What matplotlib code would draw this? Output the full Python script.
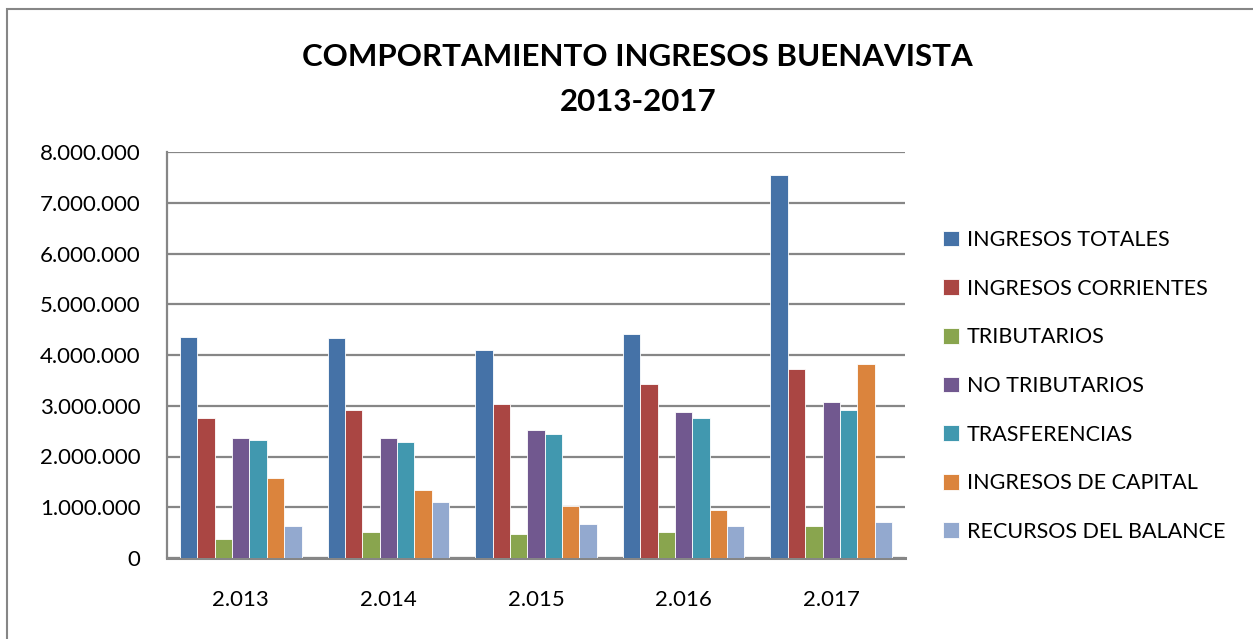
import numpy as np
import matplotlib.pyplot as plt
from matplotlib.patches import Rectangle
from matplotlib.ticker import FuncFormatter

plt.rcParams['font.family'] = ['Lato', 'DejaVu Sans']

years = ["2.013", "2.014", "2.015", "2.016", "2.017"]
series = ["INGRESOS TOTALES", "INGRESOS CORRIENTES", "TRIBUTARIOS", "NO TRIBUTARIOS",
          "TRASFERENCIAS", "INGRESOS DE CAPITAL", "RECURSOS DEL BALANCE"]
ingresos_totales = [4360000, 4330000, 4090000, 4410000, 7550000]
ingresos_corrientes = [2760000, 2920000, 3030000, 3430000, 3730000]
tributarios = [370000, 520000, 480000, 520000, 630000]
no_tributarios = [2370000, 2370000, 2520000, 2880000, 3070000]
trasferencias = [2330000, 2290000, 2440000, 2760000, 2920000]
ingresos_capital = [1580000, 1340000, 1020000, 950000, 3830000]
recursos_balance = [630000, 1100000, 670000, 630000, 710000]
colores = ["#4572a7", "#aa4643", "#89a54e", "#71588f", "#4198af", "#db843d", "#93a9cf"]

valores = [ingresos_totales, ingresos_corrientes, tributarios, no_tributarios,
           trasferencias, ingresos_capital, recursos_balance]

fig = plt.figure(figsize=(12.53, 6.39), dpi=100)
ax = fig.add_axes([167 / 1253, 1 - 558 / 639, (905 - 167) / 1253, (558 - 152) / 639])

x = np.arange(len(years))
ancho = 1 / 8.5
for i, (nombre, vals) in enumerate(zip(series, valores)):
    pos = x + (i - 3) * ancho
    ax.bar(pos, vals, width=ancho, color=colores[i], label=nombre,
           edgecolor="white", linewidth=0.6, zorder=3)

ax.set_xlim(-0.5, 4.5)
ax.set_ylim(0, 8000000)
ax.set_yticks(np.arange(0, 8000001, 1000000))
ax.yaxis.set_major_formatter(FuncFormatter(lambda v, p: f"{int(v):,}".replace(",", ".")))
ax.set_xticks(x)
ax.set_xticklabels(years)
ax.tick_params(axis="both", length=0, labelsize=16)
ax.tick_params(axis="x", pad=23)
ax.tick_params(axis="y", pad=19)
ax.grid(axis="y", color="#868686", linewidth=1.6, zorder=0)
for s in ["top", "right"]:
    ax.spines[s].set_visible(False)
ax.spines["left"].set_color("#868686")
ax.spines["bottom"].set_color("#868686")
ax.spines["left"].set_linewidth(1.6)
ax.spines["bottom"].set_linewidth(2.2)

fig.text(0.509, 1 - 57 / 639, "COMPORTAMIENTO INGRESOS BUENAVISTA", ha="center", va="center",
         fontsize=22.5, fontweight="bold")
fig.text(0.509, 1 - 102 / 639, "2013-2017", ha="center", va="center",
         fontsize=22.5, fontweight="bold")

fig.legend(loc="upper left", bbox_to_anchor=(943 / 1253, 1 - 230 / 639), frameon=False,
           fontsize=15.5, handlelength=0.75, handleheight=0.75, handletextpad=0.35,
           labelspacing=1.33, borderaxespad=0, borderpad=0)

fig.patches.append(Rectangle((7 / 1253, -0.1), 1.2, 1 - 9 / 639 + 0.1, transform=fig.transFigure,
                             fill=False, edgecolor="#868686", linewidth=1.5))

fig.savefig("out.png", dpi=100)
